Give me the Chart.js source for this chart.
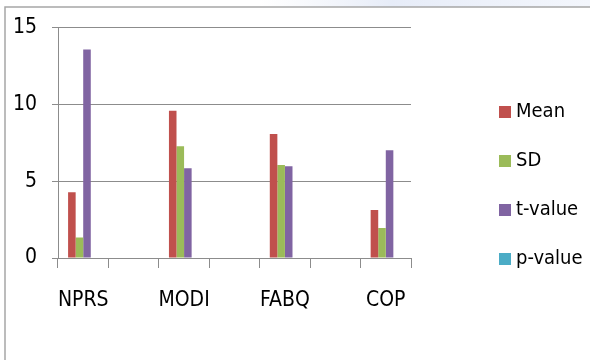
<!DOCTYPE html>
<html>
<head>
<meta charset="utf-8">
<script src="https://cdn.jsdelivr.net/npm/chart.js@4.4.0/dist/chart.umd.min.js"></script>
<style>
  html, body { margin: 0; padding: 0; background: #ffffff; }
  #wrap { width: 590px; height: 360px; position: relative; }
</style>
</head>
<body>
<div id="wrap"><canvas id="c" width="590" height="360"></canvas></div>
<script>
const categories = ["NPRS", "", "MODI", "", "FABQ", "", "COP"];
const meanValues  = [4.28, null, 9.58, null, 8.08, null, 3.12];
const sdValues    = [1.33, null, 7.27, null, 6.06, null, 1.95];
const tValues     = [13.57, null, 5.85, null, 5.98, null, 7.01];
const pValues     = [0, null, 0, null, 0, null, 0];
const seriesNames = ["Mean", "SD", "t-value", "p-value"];
const yTicks = [0, 5, 10, 15];

const colors = ["#C0504D", "#9BBB59", "#8064A2", "#4BACC6"];
const FONT = "'Liberation Sans Narrow', 'DejaVu Sans Condensed', 'Liberation Sans', sans-serif";

const frame = {
  id: 'frame',
  beforeDraw(chart) {
    const ctx = chart.ctx;
    ctx.save();
    ctx.fillStyle = '#ffffff';
    ctx.fillRect(0, 0, chart.width, chart.height);
    const g = ctx.createLinearGradient(260, 0, 590, 0);
    g.addColorStop(0, 'rgba(225,232,245,0)');
    g.addColorStop(0.4, 'rgba(220,228,245,0.7)');
    g.addColorStop(1, 'rgba(235,240,250,0.6)');
    ctx.fillStyle = g;
    ctx.fillRect(260, 0, 330, 7);
    ctx.strokeStyle = '#a6a6a6';
    ctx.lineWidth = 1.5;
    ctx.beginPath();
    ctx.moveTo(5, 360);
    ctx.lineTo(5, 7);
    ctx.lineTo(590, 7);
    ctx.stroke();
    ctx.restore();
  }
};

const legendRight = {
  id: 'legendRight',
  afterDraw(chart) {
    const ctx = chart.ctx;
    ctx.save();
    ctx.font = '20px ' + FONT;
    ctx.textBaseline = 'middle';
    ctx.textAlign = 'left';
    chart.data.datasets.forEach((ds, i) => {
      const y = 112 + 49 * i;
      ctx.fillStyle = ds.backgroundColor;
      ctx.fillRect(499, y - 6, 12, 12);
      ctx.fillStyle = '#000000';
      ctx.fillText(ds.label, 516, y);
    });
    ctx.restore();
  }
};

const allSeries = [meanValues, sdValues, tValues, pValues];

new Chart(document.getElementById('c'), {
  type: 'bar',
  data: {
    labels: categories,
    datasets: allSeries.map((vals, i) => ({
      label: seriesNames[i],
      data: vals,
      backgroundColor: colors[i],
      borderWidth: 0,
      categoryPercentage: 0.6,
      barPercentage: 1.0
    }))
  },
  options: {
    responsive: false,
    animation: false,
    layout: { padding: { left: 10, right: 179, top: 16, bottom: 47 } },
    plugins: {
      legend: { display: false },
      tooltip: { enabled: false }
    },
    scales: {
      x: {
        afterFit(axis) { axis.height = 55; },
        grid: {
          display: true,
          drawOnChartArea: false,
          drawTicks: true,
          tickLength: 10,
          color: '#8c8c8c',
          offset: true
        },
        border: { display: true, color: '#8c8c8c', width: 1 },
        ticks: {
          color: '#000000',
          font: { family: FONT, size: 21 },
          padding: 20,
          maxRotation: 0,
          autoSkip: false
        }
      },
      y: {
        min: 0,
        max: 15,
        afterFit(axis) { axis.width = 48; },
        afterBuildTicks(axis) { axis.ticks = yTicks.map(v => ({ value: v })); },
        grid: {
          color: '#8c8c8c',
          tickLength: 6,
          drawTicks: true
        },
        border: { display: true, color: '#8c8c8c', width: 1 },
        ticks: {
          color: '#000000',
          font: { family: FONT, size: 21 },
          padding: 15
        }
      }
    }
  },
  plugins: [frame, legendRight]
});
</script>
</body>
</html>
